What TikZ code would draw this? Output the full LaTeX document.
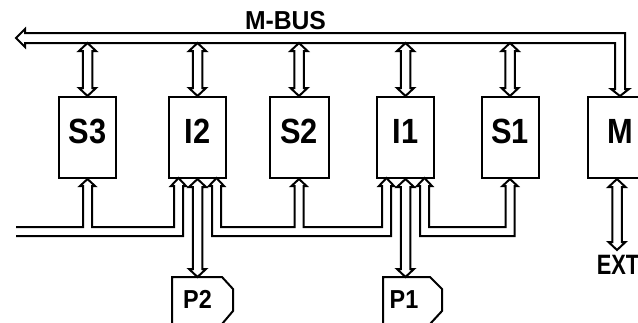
\documentclass[tikz,border=0pt]{standalone}
\usepackage{fontspec}
\setmainfont{Liberation Sans}
\usetikzlibrary{calc}
\newcommand\cnd[2][0.88]{\scalebox{#1}[1]{#2}}
\def\arw{4.75}\def\arh{8.5}\def\arl{8}
\tikzset{
  ln/.style={line width=2pt, line join=miter},
  hollow/.style={ln, draw, fill=white},
  box/.style={ln, draw, rectangle, minimum width=57pt, minimum height=81pt, inner sep=0pt,
    font=\fontsize{35}{35}\selectfont\bfseries, text height=20pt, text depth=9pt},
  lab/.style={font=\fontsize{26}{26}\selectfont\bfseries, inner sep=0pt}
}
\newcommand\dblarrow[2]{\draw[hollow] let \p1=(#1), \p2=(#2) in
  (\x1,\y1) -- (\x1+\arh pt,\y1-\arl pt) -- (\x1+\arw pt,\y1-\arl pt)
  -- (\x1+\arw pt,\y2+\arl pt) -- (\x1+\arh pt,\y2+\arl pt) -- (\x1,\y2)
  -- (\x1-\arh pt,\y2+\arl pt) -- (\x1-\arw pt,\y2+\arl pt)
  -- (\x1-\arw pt,\y1-\arl pt) -- (\x1-\arh pt,\y1-\arl pt) -- cycle;}
\begin{document}
\begin{tikzpicture}[x=1pt,y=-1pt]
\useasboundingbox (0,0) rectangle (638,322);
\fill[white] (0,0) rectangle (638,322);
\clip (0,0) rectangle (638,322);
% units
\node[box] (S3) at (87.5,137.5) {\cnd{S3}};
\node[box] (I2) at (197.5,137.5) {\cnd{I2}};
\node[box, minimum width=59pt] (S2) at (299,137.5) {\cnd{S2}};
\node[box] (I1) at (405.5,137.5) {\cnd{I1}};
\node[box] (S1) at (510,137.5) {\cnd{S1}};
\node[box, minimum width=64pt] (M) at (620,137.5) {\cnd{M}};
% M-BUS
\coordinate (busin) at (0,43);
\draw[hollow] (16,38) -- (25,29) -- (25,33) -- (625,33) -- (625,89) -- (629,89)
  -- (M.north) -- (611,89) -- (615,89) -- (615,43) -- (25,43) -- (25,47) -- cycle;
\node[lab] (mbus) at (285.5,20.5) {\cnd[0.95]{M-BUS}};
\dblarrow{S3.north |- busin}{S3.north}
\dblarrow{I2.north |- busin}{I2.north}
\dblarrow{S2.north |- busin}{S2.north}
\dblarrow{I1.north |- busin}{I1.north}
\dblarrow{S1.north |- busin}{S1.north}
% lower buses
\draw[ln] (16,227) -- (83,227) -- (83,186) -- (80,186) -- (S3.south) -- (95,186) -- (92,186)
  -- (92,227) -- (174,227) -- (174,186) -- (171,186) -- (178.5,178) -- (186,186) -- (183,186)
  -- (183,236) -- (16,236);
\draw[hollow] (212,236) -- (212,186) -- (209,186) -- (216.5,178) -- (224,186) -- (221,186)
  -- (221,227) -- (294.5,227) -- (294.5,186) -- (291.5,186) -- (S2.south) -- (306.5,186)
  -- (303.5,186) -- (303.5,227) -- (382,227) -- (382,186) -- (379,186) -- (386.5,178)
  -- (394,186) -- (391,186) -- (391,236) -- cycle;
\draw[hollow] (420,236) -- (420,186) -- (417,186) -- (424.5,178) -- (432,186) -- (429,186)
  -- (429,227) -- (505.5,227) -- (505.5,186) -- (502.5,186) -- (S1.south) -- (517.5,186)
  -- (514.5,186) -- (514.5,236) -- cycle;
% processors
\draw[ln] (172,277) -- (222,277) -- (233,289) -- (233,311) -- (222,324) -- (172,324) -- cycle;
\node[lab] (P2) at (197.5,299.5) {\cnd[0.9]{P2}};
\coordinate (P2top) at (197.5,277);
\dblarrow{I2.south}{I2.south |- P2top}
\draw[ln] (383,277) -- (430,277) -- (442,289) -- (442,311) -- (430,324) -- (383,324) -- cycle;
\node[lab] (P1) at (404,299.5) {\cnd[0.9]{P1}};
\coordinate (P1top) at (405.5,277);
\dblarrow{I1.south}{I1.south |- P1top}
% external
\coordinate (ext) at (617,250);
\dblarrow{M.south -| ext}{ext}
\node[lab, font=\fontsize{28}{28}\selectfont\bfseries] (EXT) at (618,265) {\cnd[0.78]{EXT}};
\end{tikzpicture}
\end{document}
